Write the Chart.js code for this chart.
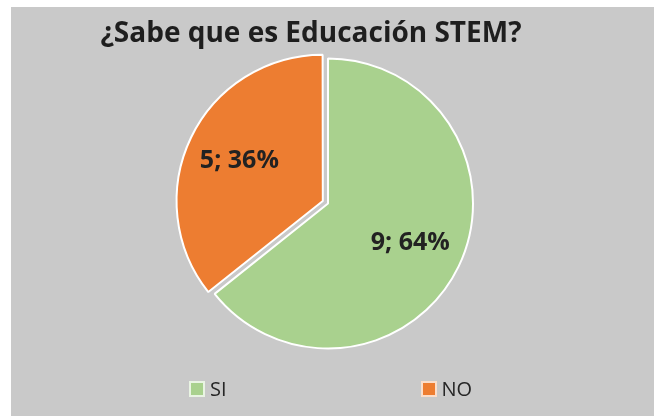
<!DOCTYPE html>
<html>
<head>
<meta charset="utf-8">
<script src="https://cdn.jsdelivr.net/npm/chart.js@4/dist/chart.umd.min.js"></script>
<style>
  body { margin: 0; background: #ffffff; width: 654px; height: 416px; overflow: hidden; position: relative; font-family: "Open Sans", sans-serif; }
  #panel { position: absolute; left: 11px; top: 7px; width: 643px; height: 409px; background: #c9c9c9; }
  #title { position: absolute; left: 0; top: 14px; width: 622px; text-align: center; font-weight: bold; font-size: 28px; line-height: 34px; color: #1e1e1e; white-space: nowrap; }
  #legend { position: absolute; left: 189px; top: 377px; display: flex; align-items: center; }
  .item { display: flex; align-items: center; }
  .box { width: 12px; height: 12px; border: 2px solid rgba(255,255,255,0.75); }
  .txt { margin-left: 5px; font-size: 20px; line-height: 24px; color: #262626; }
</style>
</head>
<body>
<div id="panel"><canvas id="chart" width="643" height="409"></canvas></div>
<div id="title">¿Sabe que es Educación STEM?</div>
<div id="legend"></div>
<script>
// datos del gráfico
const categories = ['SI', 'NO'];
const answers = [9, 5];
const sliceColors = ['#a9d18e', '#ed7d31'];
const explode = [0, 23];

const total = answers.reduce((a, b) => a + b, 0);

// etiquetas "valor; porcentaje" dentro de cada sector
const sliceLabels = {
    id: 'sliceLabels',
    afterDatasetsDraw(chart) {
        const ctx = chart.ctx;
        const meta = chart.getDatasetMeta(0);
        ctx.save();
        ctx.font = 'bold 25px "Open Sans"';
        ctx.fillStyle = '#222222';
        ctx.textAlign = 'center';
        ctx.textBaseline = 'middle';
        meta.data.forEach((arc, i) => {
            const p = arc.getProps(['x', 'y', 'startAngle', 'endAngle', 'outerRadius', 'circumference']);
            const mid = (p.startAngle + p.endAngle) / 2;
            // mismo desplazamiento que aplica ArcElement al separar el sector
            const base = explode[i] / 4;
            const shift = base * (2 - Math.sin(Math.min(Math.PI, p.circumference || 0)));
            const r = p.outerRadius * 0.63 + shift;
            const x = p.x + Math.cos(mid) * r;
            const y = p.y + Math.sin(mid) * r;
            const pct = Math.round(answers[i] / total * 100);
            ctx.fillText(answers[i] + '; ' + pct + '%', x, y);
        });
        ctx.restore();
    }
};

new Chart(document.getElementById('chart'), {
    type: 'pie',
    data: {
        labels: categories,
        datasets: [{
            data: answers,
            backgroundColor: sliceColors,
            borderColor: '#ffffff',
            borderWidth: 2,
            offset: explode
        }]
    },
    options: {
        responsive: false,
        animation: false,
        layout: { padding: { top: 39, bottom: 55, left: 0, right: 9 } },
        plugins: {
            legend: { display: false },
            tooltip: { enabled: false }
        }
    },
    plugins: [sliceLabels]
});

// leyenda abajo
const legend = document.getElementById('legend');
categories.forEach((name, i) => {
    const item = document.createElement('div');
    item.className = 'item';
    if (i > 0) item.style.marginLeft = '194px';
    const box = document.createElement('div');
    box.className = 'box';
    box.style.background = sliceColors[i];
    const txt = document.createElement('span');
    txt.className = 'txt';
    txt.textContent = name;
    item.appendChild(box);
    item.appendChild(txt);
    legend.appendChild(item);
});
</script>
</body>
</html>
